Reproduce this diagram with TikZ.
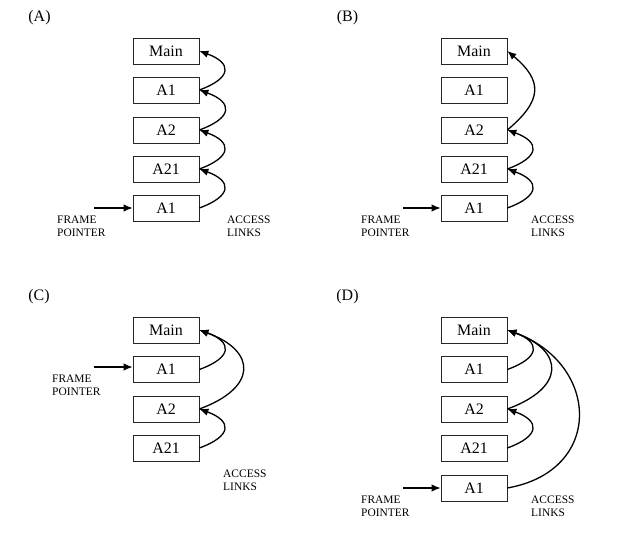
\documentclass[tikz,border=0pt]{standalone}
\usepackage{fontspec}
\setmainfont{Liberation Serif}
\usetikzlibrary{arrows.meta}

\begin{document}
\begin{tikzpicture}[x=1bp,y=1bp]
\tikzstyle{every node}+=[inner sep=0pt]
\tikzstyle{frame}=[draw=black!85, line width=0.7bp, minimum width=66bp, minimum height=26bp, font=\fontsize{16}{19}\selectfont]
\tikzstyle{link}=[-{Latex[length=9bp,width=7.5bp]}, line width=1.3bp]
\tikzstyle{tag}=[font=\fontsize{16}{19}\selectfont]
\tikzstyle{note}=[anchor=west, align=left, font=\fontsize{11.5}{13}\selectfont]
\useasboundingbox (0,0) rectangle (640,-541);
% (A)
\node [tag] (tagA) at (39.5,-18) {(A)};
\node [frame] (a1) at (166,-51) {Main};
\node [frame] (a2) at (166,-90) {A1};
\node [frame] (a3) at (166,-130) {A2};
\node [frame] (a4) at (166,-169) {A21};
\node [frame] (a5) at (166,-208) {A1};
\coordinate (fpA) at (94,-208);
\draw [link] (fpA) -- (a5);
\node [note] (fA) at (57,-226.5) {FRAME\\POINTER};
\node [note] (lA) at (227,-226.5) {ACCESS\\LINKS};
\draw [link] (a5.east) to [out=20,in=-20,looseness=2.3] (a4.east);
\draw [link] (a4.east) to [out=20,in=-20,looseness=2.3] (a3.east);
\draw [link] (a3.east) to [out=20,in=-20,looseness=2.3] (a2.east);
\draw [link] (a2.east) to [out=20,in=-20,looseness=2.3] (a1.east);
% (B)
\node [tag] (tagB) at (347.5,-18) {(B)};
\node [frame] (b1) at (474,-51) {Main};
\node [frame] (b2) at (474,-90) {A1};
\node [frame] (b3) at (474,-130) {A2};
\node [frame] (b4) at (474,-169) {A21};
\node [frame] (b5) at (474,-208) {A1};
\coordinate (fpB) at (403,-208);
\draw [link] (fpB) -- (b5);
\node [note] (fB) at (361,-226.5) {FRAME\\POINTER};
\node [note] (lB) at (531,-226.5) {ACCESS\\LINKS};
\draw [link] (b5.east) to [out=20,in=-20,looseness=2.3] (b4.east);
\draw [link] (b4.east) to [out=20,in=-20,looseness=2.3] (b3.east);
\draw [link] (b3.east) to [out=40,in=-40,looseness=1.5] (b1.east);
% (C)
\node [tag] (tagC) at (39,-297) {(C)};
\node [frame] (c1) at (166,-330) {Main};
\node [frame] (c2) at (166,-369.5) {A1};
\node [frame] (c3) at (166,-409) {A2};
\node [frame] (c4) at (166,-448) {A21};
\coordinate (fpC) at (94,-367);
\draw [link] (fpC) -- (fpC -| c2.west);
\node [note] (fC) at (52,-385) {FRAME\\POINTER};
\node [note] (lC) at (223,-480) {ACCESS\\LINKS};
\draw [link] (c2.east) to [out=20,in=-20,looseness=2.3] (c1.east);
\draw [link] (c3.east) to [out=20,in=-20,looseness=2.0] (c1.east);
\draw [link] (c4.east) to [out=20,in=-20,looseness=2.3] (c3.east);
% (D)
\node [tag] (tagD) at (347.5,-297) {(D)};
\node [frame] (d1) at (474,-330) {Main};
\node [frame] (d2) at (474,-369.5) {A1};
\node [frame] (d3) at (474,-409) {A2};
\node [frame] (d4) at (474,-448) {A21};
\node [frame] (d5) at (474,-488) {A1};
\coordinate (fpD) at (403,-488);
\draw [link] (fpD) -- (d5);
\node [note] (fD) at (361,-506) {FRAME\\POINTER};
\node [note] (lD) at (531,-506) {ACCESS\\LINKS};
\draw [link] (d2.east) to [out=20,in=-20,looseness=2.3] (d1.east);
\draw [link] (d3.east) to [out=20,in=-20,looseness=2.0] (d1.east);
\draw [link] (d4.east) to [out=20,in=-20,looseness=2.3] (d3.east);
\draw [link] (d5.east) to [out=10,in=-20,looseness=1.6] (d1.east);
\end{tikzpicture}
\end{document}
